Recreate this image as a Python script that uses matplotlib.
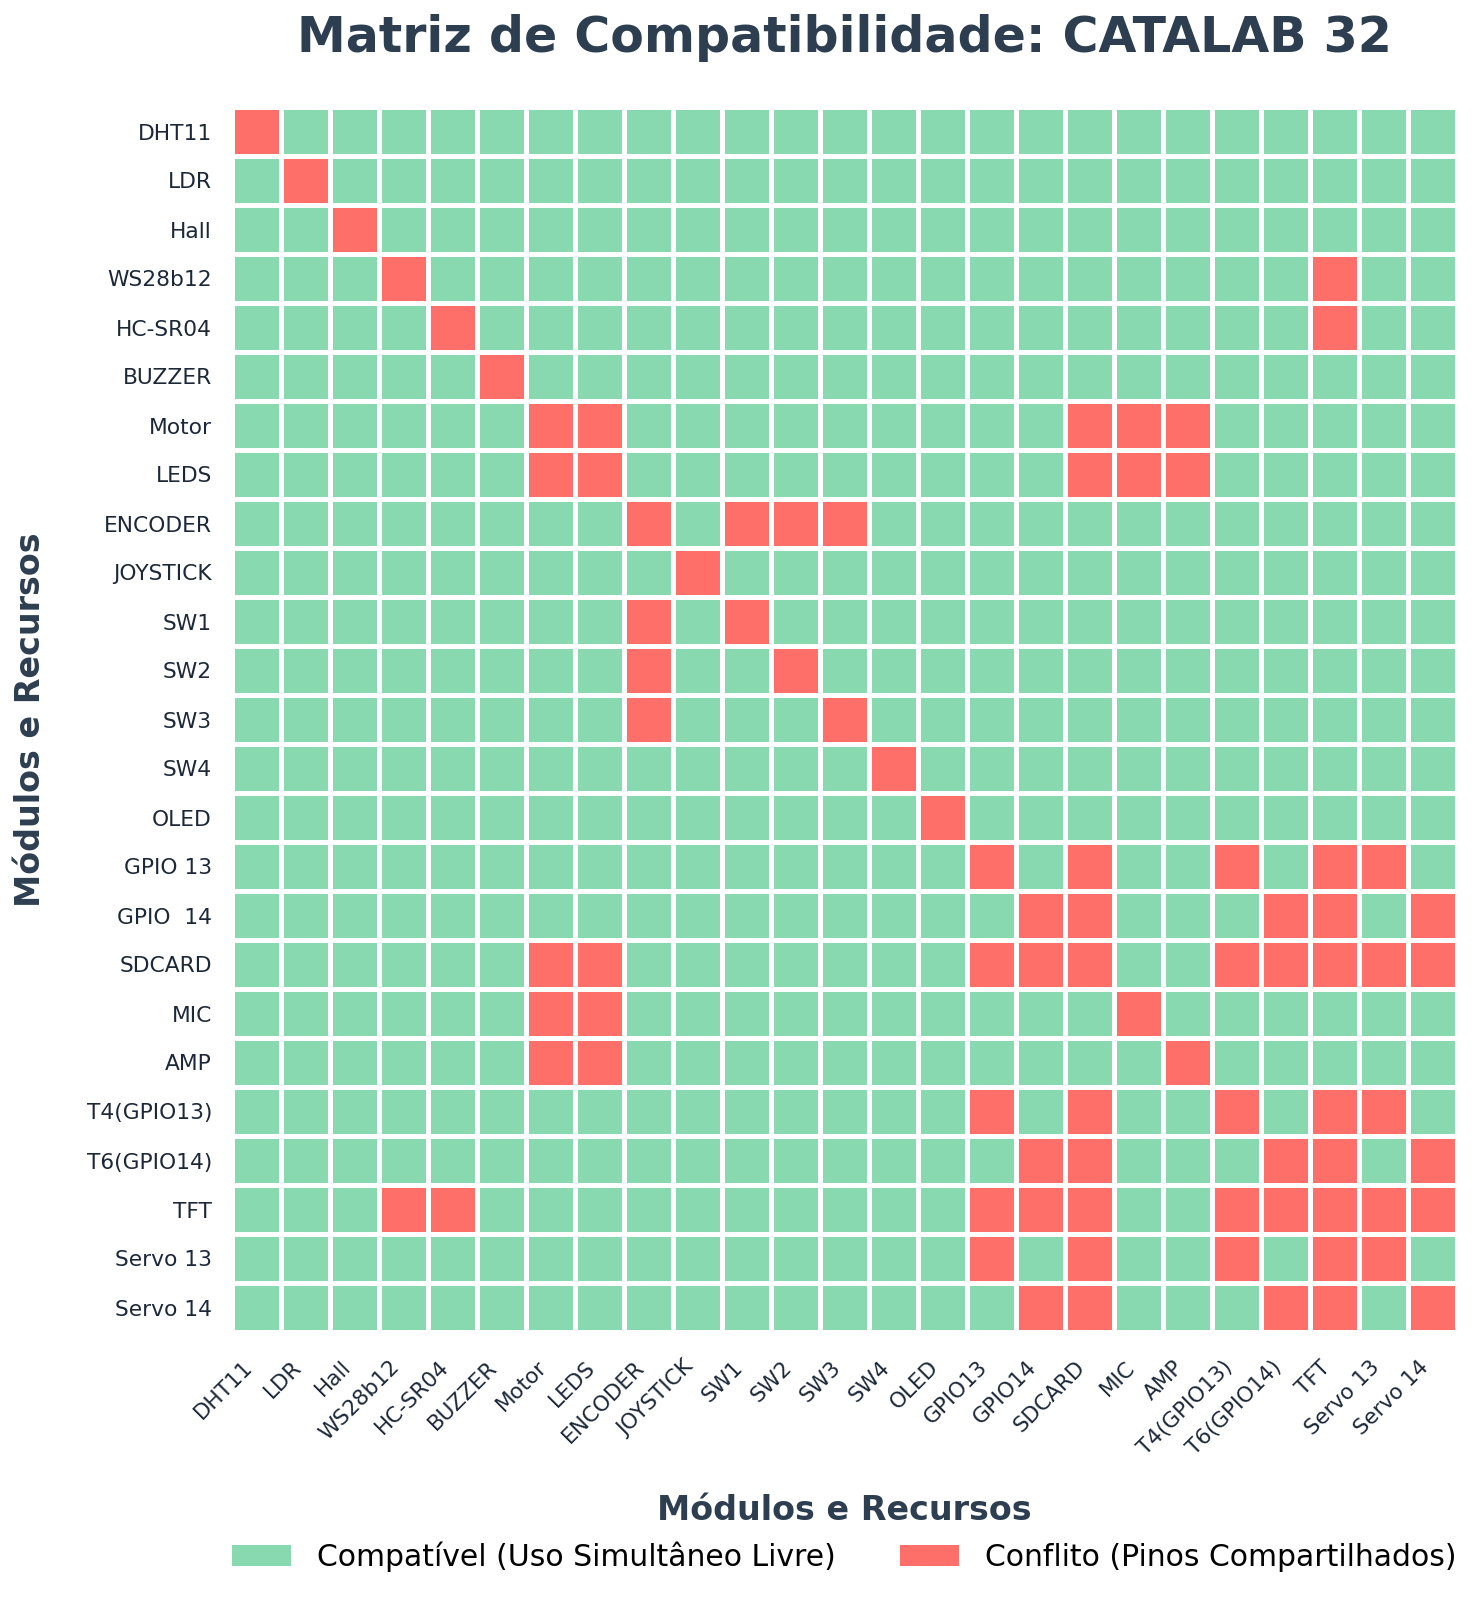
import matplotlib
matplotlib.use("Agg")
import matplotlib.pyplot as plt
from matplotlib.colors import ListedColormap
from matplotlib.patches import Patch
import numpy as np

row_labels = ["DHT11", "LDR", "Hall", "WS28b12", "HC-SR04", "BUZZER", "Motor", "LEDS",
              "ENCODER", "JOYSTICK", "SW1", "SW2", "SW3", "SW4", "OLED", "GPIO 13",
              "GPIO  14", "SDCARD", "MIC", "AMP", "T4(GPIO13)", "T6(GPIO14)", "TFT",
              "Servo 13", "Servo 14"]
col_labels = ["DHT11", "LDR", "Hall", "WS28b12", "HC-SR04", "BUZZER", "Motor", "LEDS",
              "ENCODER", "JOYSTICK", "SW1", "SW2", "SW3", "SW4", "OLED", "GPIO13",
              "GPIO14", "SDCARD", "MIC", "AMP", "T4(GPIO13)", "T6(GPIO14)", "TFT",
              "Servo 13", "Servo 14"]

# 1 = conflito, 0 = compatível
conflict_matrix = [
    [1,0,0,0,0,0,0,0,0,0,0,0,0,0,0,0,0,0,0,0,0,0,0,0,0],  # DHT11
    [0,1,0,0,0,0,0,0,0,0,0,0,0,0,0,0,0,0,0,0,0,0,0,0,0],  # LDR
    [0,0,1,0,0,0,0,0,0,0,0,0,0,0,0,0,0,0,0,0,0,0,0,0,0],  # Hall
    [0,0,0,1,0,0,0,0,0,0,0,0,0,0,0,0,0,0,0,0,0,0,1,0,0],  # WS28b12
    [0,0,0,0,1,0,0,0,0,0,0,0,0,0,0,0,0,0,0,0,0,0,1,0,0],  # HC-SR04
    [0,0,0,0,0,1,0,0,0,0,0,0,0,0,0,0,0,0,0,0,0,0,0,0,0],  # BUZZER
    [0,0,0,0,0,0,1,1,0,0,0,0,0,0,0,0,0,1,1,1,0,0,0,0,0],  # Motor
    [0,0,0,0,0,0,1,1,0,0,0,0,0,0,0,0,0,1,1,1,0,0,0,0,0],  # LEDS
    [0,0,0,0,0,0,0,0,1,0,1,1,1,0,0,0,0,0,0,0,0,0,0,0,0],  # ENCODER
    [0,0,0,0,0,0,0,0,0,1,0,0,0,0,0,0,0,0,0,0,0,0,0,0,0],  # JOYSTICK
    [0,0,0,0,0,0,0,0,1,0,1,0,0,0,0,0,0,0,0,0,0,0,0,0,0],  # SW1
    [0,0,0,0,0,0,0,0,1,0,0,1,0,0,0,0,0,0,0,0,0,0,0,0,0],  # SW2
    [0,0,0,0,0,0,0,0,1,0,0,0,1,0,0,0,0,0,0,0,0,0,0,0,0],  # SW3
    [0,0,0,0,0,0,0,0,0,0,0,0,0,1,0,0,0,0,0,0,0,0,0,0,0],  # SW4
    [0,0,0,0,0,0,0,0,0,0,0,0,0,0,1,0,0,0,0,0,0,0,0,0,0],  # OLED
    [0,0,0,0,0,0,0,0,0,0,0,0,0,0,0,1,0,1,0,0,1,0,1,1,0],  # GPIO 13
    [0,0,0,0,0,0,0,0,0,0,0,0,0,0,0,0,1,1,0,0,0,1,1,0,1],  # GPIO 14
    [0,0,0,0,0,0,1,1,0,0,0,0,0,0,0,1,1,1,0,0,1,1,1,1,1],  # SDCARD
    [0,0,0,0,0,0,1,1,0,0,0,0,0,0,0,0,0,0,1,0,0,0,0,0,0],  # MIC
    [0,0,0,0,0,0,1,1,0,0,0,0,0,0,0,0,0,0,0,1,0,0,0,0,0],  # AMP
    [0,0,0,0,0,0,0,0,0,0,0,0,0,0,0,1,0,1,0,0,1,0,1,1,0],  # T4(GPIO13)
    [0,0,0,0,0,0,0,0,0,0,0,0,0,0,0,0,1,1,0,0,0,1,1,0,1],  # T6(GPIO14)
    [0,0,0,1,1,0,0,0,0,0,0,0,0,0,0,1,1,1,0,0,1,1,1,1,1],  # TFT
    [0,0,0,0,0,0,0,0,0,0,0,0,0,0,0,1,0,1,0,0,1,0,1,1,0],  # Servo 13
    [0,0,0,0,0,0,0,0,0,0,0,0,0,0,0,0,1,1,0,0,0,1,1,0,1],  # Servo 14
]

legend_labels = ["Compatível (Uso Simultâneo Livre)", "Conflito (Pinos Compartilhados)"]
title_text = "Matriz de Compatibilidade: CATALAB 32"
axis_label = "Módulos e Recursos"

GREEN = "#88d8b0"
RED = "#ff6f69"
TITLE_C = "#2c3e50"
TICK_C = "#1c2838"

W, H = 1481, 1600
fig = plt.figure(figsize=(W / 100, H / 100), dpi=100)
ax_l, ax_r, ax_t, ax_b = 232, 1457, 107, 1332
ax = fig.add_axes([ax_l / W, 1 - ax_b / H, (ax_r - ax_l) / W, (ax_b - ax_t) / H])

data = np.array(conflict_matrix)
n_rows, n_cols = data.shape
cmap = ListedColormap([GREEN, RED])
ax.pcolormesh(np.arange(n_cols + 1), np.arange(n_rows + 1), data, cmap=cmap,
              vmin=0, vmax=1, edgecolors="white", linewidth=3.6)
ax.set_xlim(0, n_cols)
ax.set_ylim(n_rows, 0)
for s in ax.spines.values():
    s.set_visible(False)

ax.set_xticks(np.arange(n_cols) + 0.5)
ax.set_yticks(np.arange(n_rows) + 0.5)
ax.set_xticklabels(col_labels, rotation=45, ha="right", fontsize=15.5, color=TICK_C)
ax.set_yticklabels(row_labels, fontsize=15.7, color=TICK_C)
ax.tick_params(axis="x", length=0, pad=18)
ax.tick_params(axis="y", length=0, pad=14.4)

ax.set_title(title_text, fontsize=35.3, fontweight="bold", color=TITLE_C, pad=39.6)

ax.set_xlabel(axis_label, fontsize=24, fontweight="bold", color=TITLE_C)
ax.xaxis.label.set_va("baseline")
ax.xaxis.set_label_coords(0.5, (ax_b - 1520) / (ax_b - ax_t))
ax.set_ylabel(axis_label, fontsize=24, fontweight="bold", color=TITLE_C)
ax.yaxis.label.set_va("baseline")
ax.yaxis.set_label_coords((40 - ax_l) / (ax_r - ax_l), 0.5)

handles = [Patch(facecolor=GREEN, edgecolor="none"), Patch(facecolor=RED, edgecolor="none")]
fig.legend(handles, legend_labels, loc="center", bbox_to_anchor=(844 / W, 1 - 1557 / H),
           bbox_transform=fig.transFigure, ncol=2, frameon=False, fontsize=21.5,
           handlelength=2.0, handletextpad=0.85, columnspacing=2.15)

fig.savefig("out.png", dpi=100, facecolor="white")
